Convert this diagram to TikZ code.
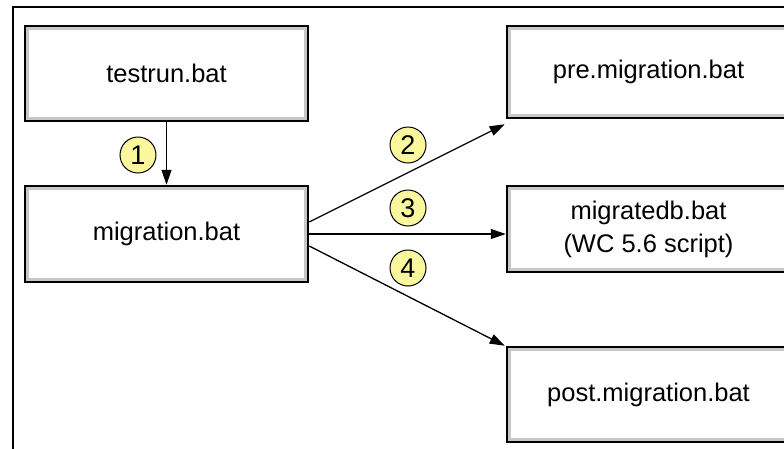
\documentclass[tikz,border=0pt]{standalone}
\usepackage{fontspec}
\setmainfont{Liberation Sans}
\usetikzlibrary{arrows.meta,calc}

\definecolor{markfill}{HTML}{FBF79C}

\tikzset{
  batbox/.style={
    rectangle, draw=black, line width=2.5pt, fill=white,
    minimum width=283pt, inner sep=0pt, align=center,
    font=\fontsize{25.5}{33}\selectfont,
    path picture={
      \draw[line width=3pt, draw=black!22]
        ([xshift=2.75pt,yshift=-2.75pt]path picture bounding box.north west)
        rectangle
        ([xshift=-2.75pt,yshift=2.75pt]path picture bounding box.south east);
    }
  },
  stepmark/.style={
    circle, draw=black, line width=1pt, fill=markfill,
    minimum size=36pt, inner sep=0pt,
    font=\fontsize{27}{27}\selectfont
  },
  flow/.style={line width=1.3pt, -{Triangle[length=15pt,width=10pt]}}
}

\begin{document}
\begin{tikzpicture}[x=1pt, y=-1pt]
  \useasboundingbox (0,0) rectangle (784,448);
  \clip (0,0) rectangle (784,448);

  % frame along the left and top edges
  \draw[line width=1.5pt] (13,460) -- (13,7) -- (800,7);

  % script boxes
  \node[batbox, minimum height=95pt] (testrun)   at (166.5,73.5) {testrun.bat};
  \node[batbox, minimum height=96pt] (migration) at (166.5,234)  {migration.bat};
  \node[batbox, minimum height=92pt] (pre)       at (648.5,72)   {pre.migration.bat};
  \node[batbox, minimum height=86pt] (migdb)     at (648.5,229)  {migratedb.bat\\(WC 5.6 script)};
  \node[batbox, minimum height=95pt] (post)      at (648.5,394.5){post.migration.bat};

  % call sequence
  \draw[flow] (testrun.south) -- (migration.north);
  \draw[flow] ([yshift=12pt]migration.east) -- ([xshift=-1pt,yshift=-5pt]pre.south west);
  \draw[flow] (migration.east) -- (migration.east -| migdb.west);
  \draw[flow] ([yshift=-12pt]migration.east) -- ([xshift=-1pt]post.north west);

  % step numbers
  \node[stepmark] (s1) at (138,155) {1};
  \node[stepmark] (s2) at (408,145) {2};
  \node[stepmark] (s3) at (408,208) {3};
  \node[stepmark] (s4) at (408,268) {4};
\end{tikzpicture}
\end{document}
